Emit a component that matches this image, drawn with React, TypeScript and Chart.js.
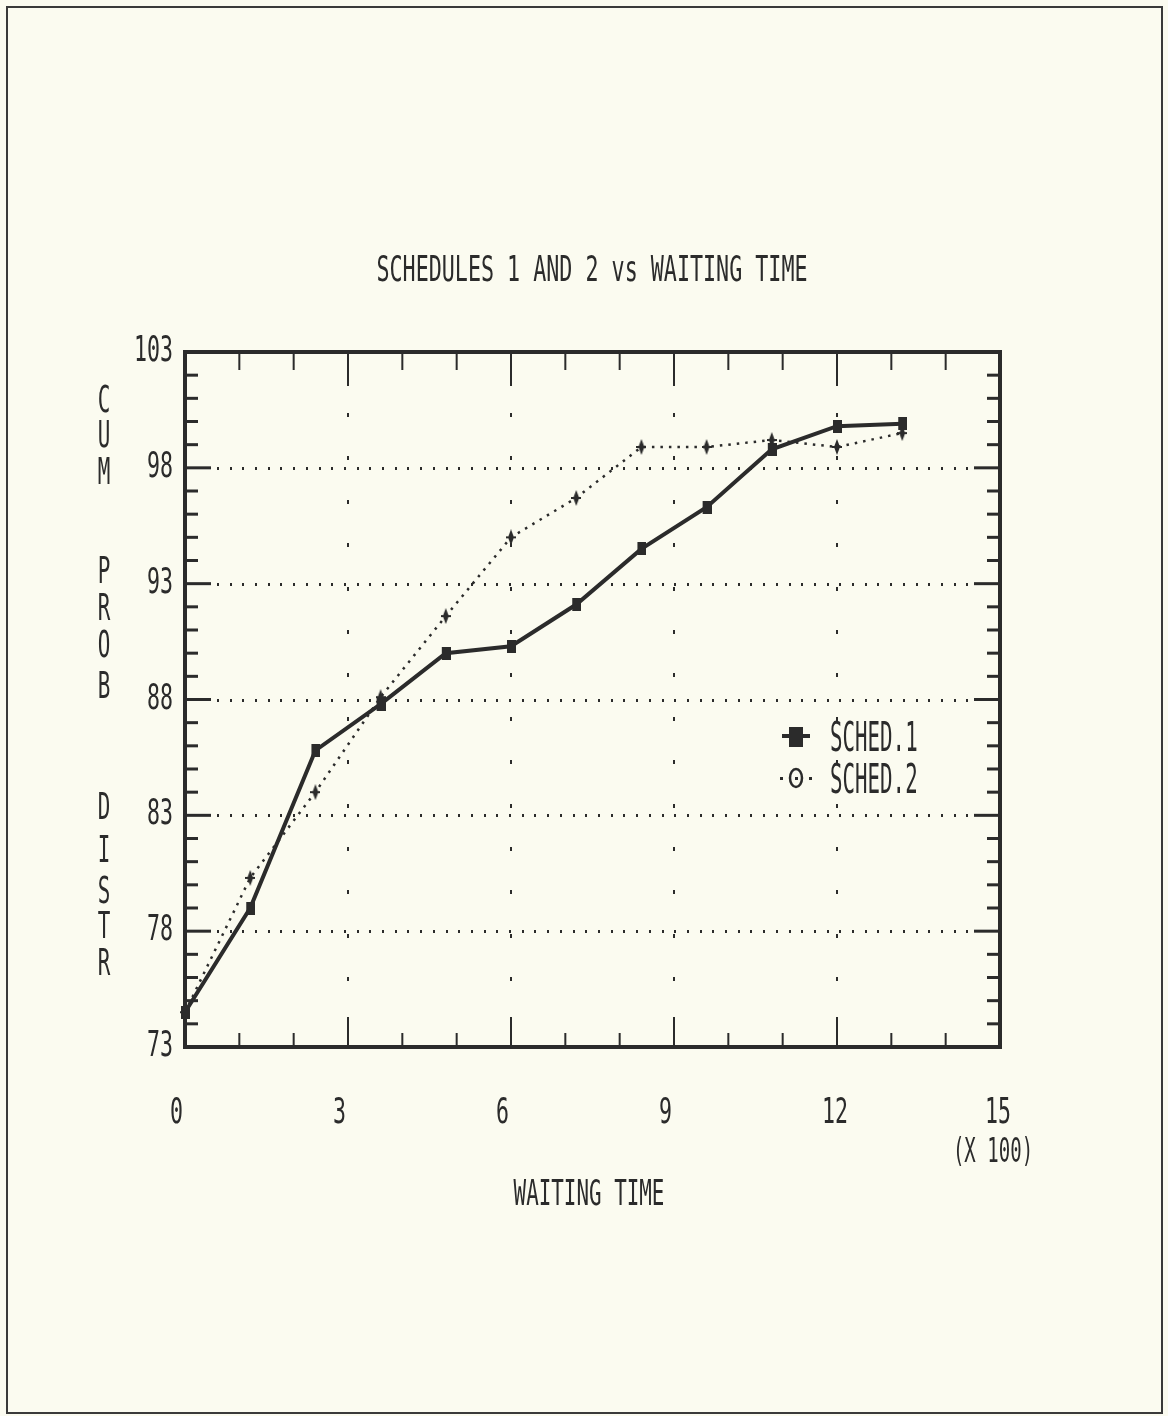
import React, { useEffect, useRef } from "react";
import { Chart, registerables } from "chart.js";

Chart.register(...registerables);

// ---- data ----
const waitingTime = [0, 1.2, 2.4, 3.6, 4.8, 6.0, 7.2, 8.4, 9.6, 10.8, 12.0, 13.2];
const sched1 = [74.5, 79.0, 85.8, 87.8, 90.0, 90.3, 92.1, 94.5, 96.3, 98.8, 99.8, 99.9];
const sched2 = [74.5, 80.3, 84.0, 88.1, 91.6, 95.0, 96.7, 98.9, 98.9, 99.2, 98.9, 99.5];
const xTickLabels = [0, 3, 6, 9, 12, 15];
const yTickLabels = [73, 78, 83, 88, 93, 98, 103];
const seriesNames = ["SCHED.1", "SCHED.2"];
const chartTitle = "SCHEDULES 1 AND 2 vs WAITING TIME";
const xTitle = "WAITING TIME";
const xUnit = "(X 100)";
const yTitleLetters = ["C", "U", "M", "P", "R", "O", "B", "D", "I", "S", "T", "R"];
const yTitleCenters = [398, 433, 470, 569, 606, 643, 684, 805, 848, 889, 924, 961];

const INK = "#2b2b2b";
const BG = "#fbfbf0";
const FONT = '"DejaVu Sans Mono", monospace';

function drawText(
  ctx: CanvasRenderingContext2D,
  text: string,
  x: number,
  cy: number,
  size: number,
  sx: number,
  align: "left" | "center" | "right"
) {
  ctx.save();
  ctx.font = `${size}px ${FONT}`;
  const w = ctx.measureText(text).width * sx;
  let left = x;
  if (align === "center") left = x - w / 2;
  else if (align === "right") left = x - w;
  const base = cy + (0.729 * size) / 2;
  ctx.translate(left, base);
  ctx.scale(sx, 1);
  ctx.textAlign = "left";
  ctx.textBaseline = "alphabetic";
  ctx.fillStyle = INK;
  ctx.fillText(text, 0, 0);
  ctx.restore();
}

function makeSquareMarker() {
  const c = document.createElement("canvas");
  c.width = 10;
  c.height = 13;
  const g = c.getContext("2d")!;
  g.fillStyle = INK;
  g.fillRect(1, 0, 9, 13);
  return c;
}

function makeDiamondMarker() {
  const c = document.createElement("canvas");
  c.width = 10;
  c.height = 16;
  const g = c.getContext("2d")!;
  g.fillStyle = INK;
  g.beginPath();
  g.moveTo(5, 0);
  g.lineTo(8, 8);
  g.lineTo(5, 16);
  g.lineTo(2, 8);
  g.closePath();
  g.fill();
  g.fillRect(0, 7, 10, 2);
  return c;
}

const decorPlugin = {
  id: "decor",
  beforeDraw(chart: any) {
    const ctx = chart.ctx as CanvasRenderingContext2D;
    ctx.save();
    ctx.fillStyle = BG;
    ctx.fillRect(0, 0, chart.width, chart.height);
    // page frame
    ctx.strokeStyle = "#3a3a3a";
    ctx.lineWidth = 2;
    ctx.strokeRect(7, 7, 1155, 1406);
    ctx.restore();
  },
  beforeDatasetsDraw(chart: any) {
    const ctx = chart.ctx as CanvasRenderingContext2D;
    const xs = chart.scales.x;
    const ys = chart.scales.y;
    const { left, right, top, bottom } = chart.chartArea;
    ctx.save();
    ctx.fillStyle = INK;
    // horizontal dotted grid
    yTickLabels.forEach((v) => {
      if (v === 73 || v === 103) return;
      const py = Math.round(ys.getPixelForValue(v));
      for (let px = left + 32; px < right - 26; px += 12.7) {
        ctx.fillRect(Math.round(px), py - 1, 2, 3);
      }
    });
    // vertical dotted grid
    xTickLabels.forEach((v) => {
      if (v === 0 || v === 15) return;
      const px = Math.round(xs.getPixelForValue(v));
      for (let py = top + 61; py < bottom - 40; py += 43.4) {
        ctx.fillRect(px - 1, Math.round(py), 2, 4);
      }
    });
    ctx.restore();
  },
  afterDatasetsDraw(chart: any) {
    const ctx = chart.ctx as CanvasRenderingContext2D;
    const xs = chart.scales.x;
    const ys = chart.scales.y;
    const { left, right, top, bottom } = chart.chartArea;
    ctx.save();
    ctx.strokeStyle = INK;
    ctx.fillStyle = INK;
    // y ticks (every unit), inward on left and right
    for (let v = 74; v <= 102; v++) {
      const py = ys.getPixelForValue(v);
      const major = (v - 73) % 5 === 0;
      const len = major ? 26 : 13;
      ctx.fillRect(left, py - 1.5, len, 3);
      ctx.fillRect(right - len, py - 1.5, len, 3);
    }
    // x ticks (every unit), inward on top and bottom
    for (let v = 1; v <= 14; v++) {
      const px = xs.getPixelForValue(v);
      const major = v % 3 === 0;
      ctx.fillRect(px - 1, top, 2, major ? 34 : 18);
      ctx.fillRect(px - 1, bottom - (major ? 30 : 14), 2, major ? 30 : 14);
    }
    // frame
    ctx.lineWidth = 4;
    ctx.strokeRect(left, top, right - left, bottom - top);

    // y tick labels
    yTickLabels.forEach((v) => {
      drawText(ctx, String(v), left - 12, ys.getPixelForValue(v) - 4, 36, 0.6, "right");
    });
    // x tick labels
    xTickLabels.forEach((v) => {
      drawText(ctx, String(v), xs.getPixelForValue(v) - 15, 1110, 36, 0.6, "left");
    });
    drawText(ctx, xUnit, 993, 1150, 34, 0.56, "center");
    // titles
    drawText(ctx, chartTitle, 592, 268, 35, 0.62, "center");
    drawText(ctx, xTitle, 589, 1192, 36, 0.58, "center");
    yTitleLetters.forEach((ch, i) => {
      drawText(ctx, ch, 104, yTitleCenters[i], 38, 0.55, "center");
    });

    // legend
    const lx = 796;
    const rows = [
      { cy: 736, name: seriesNames[0], kind: 0 },
      { cy: 778, name: seriesNames[1], kind: 1 },
    ];
    rows.forEach((r) => {
      if (r.kind === 0) {
        ctx.fillRect(lx - 14, r.cy - 2, 28, 4);
        ctx.fillRect(lx - 7, r.cy - 9, 14, 20);
      } else {
        ctx.fillRect(lx - 16, r.cy - 1, 3, 3);
        ctx.fillRect(lx + 13, r.cy - 1, 3, 3);
        ctx.lineWidth = 2.5;
        ctx.beginPath();
        ctx.ellipse(lx, r.cy, 6, 9, 0, 0, Math.PI * 2);
        ctx.stroke();
        ctx.fillRect(lx - 1, r.cy - 1, 3, 3);
      }
      drawText(ctx, r.name, 830, r.cy, 40, 0.52, "left");
    });
    ctx.restore();
  },
};

export default function App() {
  const ref = useRef<HTMLCanvasElement | null>(null);
  useEffect(() => {
    document.body.style.margin = "0";
    document.body.style.background = BG;
    const canvas = ref.current!;
    const chart = new Chart(canvas, {
      type: "scatter",
      data: {
        datasets: [
          {
            label: seriesNames[0],
            data: waitingTime.map((x, i) => ({ x, y: sched1[i] })),
            showLine: true,
            borderColor: INK,
            backgroundColor: INK,
            borderWidth: 4,
            pointStyle: makeSquareMarker() as any,
            pointRadius: 6,
            clip: false as any,
          },
          {
            label: seriesNames[1],
            data: waitingTime.map((x, i) => ({ x, y: sched2[i] })),
            showLine: true,
            borderColor: INK,
            backgroundColor: INK,
            borderWidth: 2.5,
            borderDash: [2.5, 6],
            pointStyle: makeDiamondMarker() as any,
            pointRadius: 6,
            clip: false as any,
          },
        ],
      },
      options: {
        responsive: false,
        animation: false,
        events: [],
        layout: { padding: { left: 185, top: 352, right: 168, bottom: 369 } },
        scales: {
          x: { type: "linear", min: 0, max: 15, display: false },
          y: { type: "linear", min: 73, max: 103, display: false },
        },
        plugins: {
          legend: { display: false },
          title: { display: false },
          tooltip: { enabled: false },
        },
      },
      plugins: [decorPlugin],
    });
    return () => chart.destroy();
  }, []);
  return <canvas ref={ref} width={1168} height={1416} style={{ display: "block" }} />;
}
